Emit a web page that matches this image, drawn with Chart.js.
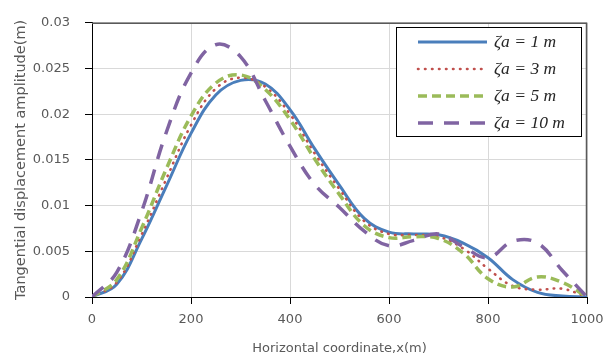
<!DOCTYPE html>
<html>
<head>
<meta charset="utf-8">
<script src="https://cdn.jsdelivr.net/npm/chart.js@4.4.1/dist/chart.umd.min.js"></script>
<style>
  html, body { margin: 0; padding: 0; background: #fff; }
</style>
</head>
<body>
<canvas id="ampChart" width="613" height="359"></canvas>
<script>
// horizontal coordinate x (m)
const xCoords = [0, 50, 100, 150, 200, 250, 300, 350, 400, 450, 500,
                 550, 600, 650, 700, 750, 800, 850, 900, 950, 1000];

// tangential displacement amplitude (m) for each wave amplitude
const ampZa1 = [0, 0.0014, 0.0063, 0.0121, 0.0179, 0.0221, 0.0237, 0.0233, 0.0205, 0.0162, 0.0122,
                0.0086, 0.0071, 0.0069, 0.0068, 0.0059, 0.0043, 0.0019, 0.0005, 0.0001, 0];
const ampZa3 = [0, 0.0016, 0.0068, 0.0129, 0.0188, 0.0228, 0.0240, 0.0230, 0.0200, 0.0157, 0.0118,
                0.0083, 0.0069, 0.0068, 0.0066, 0.0053, 0.0031, 0.0012, 0.0008, 0.0009, 0];
const ampZa5 = [0, 0.0019, 0.0075, 0.0140, 0.0198, 0.0234, 0.0243, 0.0227, 0.0194, 0.0151, 0.0112,
                0.0078, 0.0065, 0.0066, 0.0064, 0.0048, 0.0020, 0.0011, 0.0022, 0.0016, 0];
const ampZa10 = [0, 0.0027, 0.0093, 0.0180, 0.0245, 0.0276, 0.0263, 0.0215, 0.0165, 0.0123, 0.0098,
                 0.0072, 0.0056, 0.0062, 0.0069, 0.0055, 0.0043, 0.0061, 0.0059, 0.0029, 0];

const seriesLabels = ['ζa = 1 m', 'ζa = 3 m', 'ζa = 5 m', 'ζa = 10 m'];
const xTicks = [0, 200, 400, 600, 800, 1000];
const yTicks = [0, 0.005, 0.01, 0.015, 0.02, 0.025, 0.03];

const toPoints = arr => arr.map((v, i) => ({ x: xCoords[i], y: v }));

const styles = [
  { color: '#4a7ebb', width: 3, dash: [], cap: 'butt' },
  { color: '#c0504d', width: 2.6, dash: [0.5, 6.5], cap: 'round' },
  { color: '#9bbb59', width: 3.5, dash: [9, 5], cap: 'butt' },
  { color: '#8064a2', width: 3.5, dash: [15, 11], cap: 'butt' }
];
const seriesData = [ampZa1, ampZa3, ampZa5, ampZa10];

const datasets = seriesData.map((arr, i) => ({
  label: seriesLabels[i],
  data: toPoints(arr),
  borderColor: styles[i].color,
  borderWidth: styles[i].width,
  borderDash: styles[i].dash,
  borderCapStyle: styles[i].cap,
  pointRadius: 0,
  tension: 0.4,
  fill: false,
  order: 3 - i
}));

const tickFont = { family: 'DejaVu Sans', size: 13 };

// plot frame (top / right) and the boxed legend
const frameAndLegend = {
  id: 'frameAndLegend',
  beforeDatasetsDraw(chart) {
    const { ctx, chartArea: a } = chart;
    ctx.save();
    ctx.strokeStyle = '#595959';
    ctx.lineWidth = 1.5;
    ctx.beginPath();
    ctx.moveTo(a.left, a.top + 0.5);
    ctx.lineTo(a.right - 0.5, a.top + 0.5);
    ctx.lineTo(a.right - 0.5, a.bottom);
    ctx.stroke();
    ctx.restore();
  },
  afterDraw(chart) {
    const ctx = chart.ctx;
    ctx.save();
    ctx.fillStyle = '#fff';
    ctx.fillRect(396, 27, 185, 109);
    ctx.strokeStyle = '#000';
    ctx.lineWidth = 1;
    ctx.strokeRect(396.5, 27.5, 185, 109);
    const rows = [42, 69, 96, 123];
    ctx.font = 'italic 17.5px "Liberation Serif"';
    ctx.textBaseline = 'middle';
    chart.data.datasets.forEach((ds, i) => {
      const y = rows[i];
      ctx.strokeStyle = ds.borderColor;
      ctx.lineWidth = ds.borderWidth;
      ctx.setLineDash(ds.borderDash);
      ctx.lineCap = ds.borderCapStyle;
      ctx.beginPath();
      ctx.moveTo(418, y);
      ctx.lineTo(487, y);
      ctx.stroke();
      ctx.setLineDash([]);
      ctx.fillStyle = '#262626';
      ctx.fillText(ds.label, 494, y);
    });
    ctx.restore();
  }
};

new Chart(document.getElementById('ampChart'), {
  type: 'line',
  data: { datasets: datasets },
  options: {
    responsive: false,
    animation: false,
    layout: { padding: { top: 21, right: 26, left: 0, bottom: 0 } },
    plugins: { legend: { display: false }, tooltip: { enabled: false } },
    scales: {
      x: {
        type: 'linear',
        min: 0,
        max: 1000,
        afterBuildTicks: s => { s.ticks = xTicks.map(v => ({ value: v })); },
        afterFit: s => { s.height = 62; },
        ticks: { color: '#595959', font: tickFont, padding: 8, maxRotation: 0,
                 callback: v => String(v) },
        grid: { color: '#d9d9d9', tickColor: '#000', tickLength: 7 },
        border: { color: '#000', width: 1 },
        title: { display: true, text: 'Horizontal coordinate,x(m)', color: '#595959',
                 font: { family: 'DejaVu Sans', size: 13 }, padding: { top: 0, bottom: 3 } }
      },
      y: {
        min: 0,
        max: 0.03,
        afterBuildTicks: s => { s.ticks = yTicks.map(v => ({ value: v })); },
        afterFit: s => { s.width = 92; },
        ticks: { color: '#595959', font: tickFont, padding: 15,
                 callback: v => String(v) },
        grid: { color: '#d9d9d9', tickColor: '#000', tickLength: 7 },
        border: { color: '#000', width: 1 },
        title: { display: true, text: 'Tangential displacement amplitude(m)', color: '#595959',
                 font: { family: 'DejaVu Sans', size: 14.5 }, padding: { top: 13, bottom: 0 } }
      }
    }
  },
  plugins: [frameAndLegend]
});
</script>
</body>
</html>
